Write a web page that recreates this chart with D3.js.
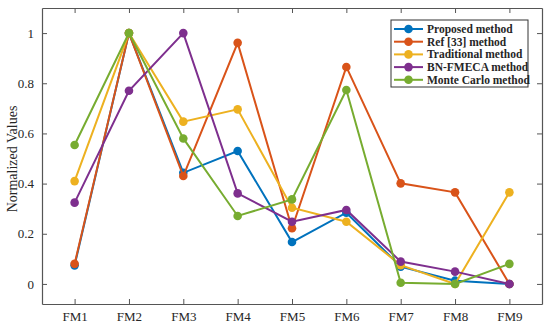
<!doctype html>
<html>
<head>
    <script src="https://d3js.org/d3.v7.min.js"></script>
</head>
<style>
    body { margin: 0; background: #fff; }
    svg text { font-family: "Liberation Serif", "Times New Roman", serif; fill: #262626; }
</style>
<body>
<script>
    var categories = ["FM1", "FM2", "FM3", "FM4", "FM5", "FM6", "FM7", "FM8", "FM9"];
    var seriesNames = ["Proposed method", "Ref [33] method", "Traditional method", "BN-FMECA method", "Monte Carlo method"];
    var proposed    = [0.074, 1, 0.443, 0.53, 0.167, 0.284, 0.069, 0.013, 0];
    var ref33       = [0.08, 1, 0.43, 0.961, 0.222, 0.865, 0.401, 0.365, 0];
    var traditional = [0.41, 1, 0.647, 0.696, 0.304, 0.248, 0.075, 0.0, 0.365];
    var bnFmeca     = [0.324, 0.77, 1, 0.361, 0.248, 0.295, 0.089, 0.049, 0];
    var monteCarlo  = [0.554, 1, 0.58, 0.271, 0.337, 0.773, 0.005, 0.0, 0.08];
    var yTicks = [0, 0.2, 0.4, 0.6, 0.8, 1];

    var allSeries = [proposed, ref33, traditional, bnFmeca, monteCarlo];
    var colors = ["#0072BD", "#D95319", "#EDB120", "#7E2F8E", "#77AC30"];

    var width = 550, height = 328;
    var plotLeft = 42, plotRight = 542, plotTop = 8, plotBottom = 304;

    var svg = d3.select("body").append("svg")
        .attr("width", width)
        .attr("height", height);

    var x = d3.scaleLinear().domain([0.4, 9.6]).range([plotLeft, plotRight]);
    var y = d3.scaleLinear().domain([-0.08, 1.1]).range([plotBottom, plotTop]);

    var axisColor = "#555";

    // ticks point inward on all four sides (box on)
    var gx = svg.append("g").attr("transform", "translate(0," + plotBottom + ")")
        .call(d3.axisBottom(x).tickValues(d3.range(1, 10)).tickSize(-5).tickSizeOuter(0).tickPadding(8)
            .tickFormat(function (d) { return categories[d - 1]; }));
    var gxt = svg.append("g").attr("transform", "translate(0," + plotTop + ")")
        .call(d3.axisTop(x).tickValues(d3.range(1, 10)).tickSize(-5).tickSizeOuter(0).tickFormat(""));

    var gy = svg.append("g").attr("transform", "translate(" + plotLeft + ",0)")
        .call(d3.axisLeft(y).tickValues(yTicks).tickSize(-5).tickSizeOuter(0).tickPadding(8)
            .tickFormat(function (d) { return d === 0 || d === 1 ? d : d3.format(".1f")(d); }));
    var gyr = svg.append("g").attr("transform", "translate(" + plotRight + ",0)")
        .call(d3.axisRight(y).tickValues(yTicks).tickSize(-5).tickSizeOuter(0).tickFormat(""));

    [gx, gxt, gy, gyr].forEach(function (g) {
        g.selectAll("path").attr("stroke", axisColor).attr("stroke-width", 1.2);
        g.selectAll("line").attr("stroke", axisColor).attr("stroke-width", 1);
        g.selectAll("text").style("font-family", "Liberation Serif, serif")
            .style("font-size", "13px").attr("fill", "#262626");
    });

    svg.append("text")
        .attr("transform", "translate(17,159) rotate(-90)")
        .attr("text-anchor", "middle")
        .style("font-size", "14px")
        .text("Normalized Values");

    var line = d3.line()
        .x(function (d, i) { return x(i + 1); })
        .y(function (d) { return y(d); });

    allSeries.forEach(function (s, k) {
        var g = svg.append("g");
        g.append("path")
            .attr("d", line(s))
            .attr("fill", "none")
            .attr("stroke", colors[k])
            .attr("stroke-width", 2);
        g.selectAll("circle").data(s).enter().append("circle")
            .attr("cx", function (d, i) { return x(i + 1); })
            .attr("cy", function (d) { return y(d); })
            .attr("r", 4.3)
            .attr("fill", colors[k]);
    });

    // legend
    var lg = svg.append("g").attr("transform", "translate(391,20)");
    lg.append("rect")
        .attr("width", 137).attr("height", 67)
        .attr("fill", "#fff").attr("stroke", "#333").attr("stroke-width", 1);
    seriesNames.forEach(function (name, k) {
        var row = lg.append("g").attr("transform", "translate(0," + (9 + k * 12.7) + ")");
        row.append("line").attr("x1", 3).attr("x2", 32)
            .attr("stroke", colors[k]).attr("stroke-width", 2);
        row.append("circle").attr("cx", 17.5).attr("r", 4.3).attr("fill", colors[k]);
        row.append("text").attr("x", 36).attr("dy", "0.35em")
            .style("font-size", "11.5px").style("font-weight", "bold")
            .attr("fill", "#111")
            .text(name);
    });
</script>
</body>
</html>
